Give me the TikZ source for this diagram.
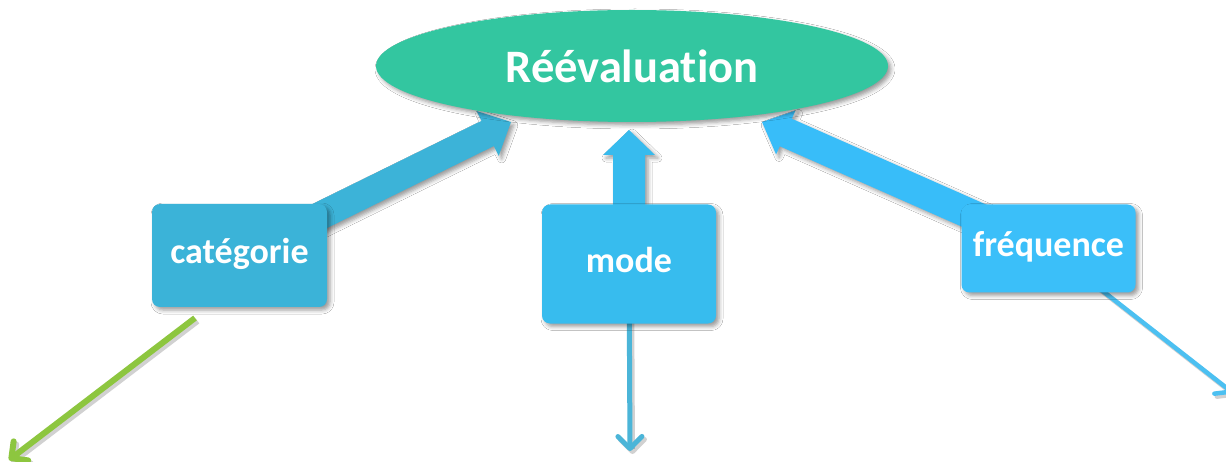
\documentclass[tikz,border=0pt]{standalone}
\usepackage{fontspec}
\setmainfont{Carlito}[Ligatures={NoCommon,NoRare,NoContextual}]
\usetikzlibrary{shapes.geometric,calc,arrows.meta,backgrounds,shadows.blur}

\definecolor{ellc}{HTML}{33C6A0}
\definecolor{catc}{HTML}{3BB3D8}
\definecolor{modec}{HTML}{37BCEE}
\definecolor{freqc}{HTML}{3BBFF9}
\definecolor{catarr}{HTML}{3CB3D8}
\definecolor{modearr}{HTML}{37BBEE}
\definecolor{freqarr}{HTML}{38BDF9}
\definecolor{modeline}{HTML}{4BB5D8}
\definecolor{freqline}{HTML}{4CC0F1}
\definecolor{greenc}{HTML}{8DC63F}

% #1 style, #2 start, #3 tip, #4 shaft half width, #5 head half width, #6 head length
\newcommand{\blockarr}[6]{%
  \coordinate (ba-hb) at ($(#3)!#6!(#2)$);
  \fill[#1] ($(#2)!#4!90:(#3)$) -- ($(ba-hb)!#4!90:(#3)$) -- ($(ba-hb)!#5!90:(#3)$)
    -- (#3) -- ($(ba-hb)!#5!-90:(#3)$) -- ($(ba-hb)!#4!-90:(#3)$) -- ($(#2)!#4!-90:(#3)$) -- cycle;
}

\begin{document}
\begin{tikzpicture}[x=1pt,y=-1pt,
  softshadow/.style={blur shadow={shadow xshift=3pt,shadow yshift=-3pt,shadow blur radius=4pt,shadow opacity=40}},
  boxstyle/.style={rectangle, rounded corners=8pt, text=white, inner sep=0pt,
    font=\fontsize{36}{43}\selectfont\bfseries, text height=24pt, text depth=7pt, softshadow},
  titlestyle/.style={ellipse, fill=ellc, text=white, inner sep=0pt,
    minimum width=512pt, minimum height=112pt,
    font=\fontsize{46.5}{55}\selectfont\bfseries, softshadow},
  thinarrow/.style={line width=5pt, -{Straight Barb[length=12pt,width=24pt,round]}},
  lineshadow/.style={draw=black, opacity=0.18, transform canvas={xshift=2.5pt,yshift=-3pt}}]

\useasboundingbox (0,0) rectangle (1226,462);

\node[titlestyle] (reev) at (632,66) {Réévaluation};
\node[boxstyle, fill=catc, minimum width=175pt, minimum height=103pt] (cat) at (239.5,255.5) {catégorie};
\node[boxstyle, fill=modec, minimum width=174pt, minimum height=119pt] (mode) at (629,264) {mode};
\node[boxstyle, fill=freqc, minimum width=174pt, minimum height=88pt] (freq) at (1048.5,248.5) {fréquence};

\coordinate (t-cat) at (511,122);
\coordinate (t-mode) at (629,130);
\coordinate (t-freq) at (762,122);
\coordinate (m-end) at (630,451);
\coordinate (f-end) at (1233,393);
\coordinate (g-start) at (195,318);
\coordinate (g-end) at (9,460);

\begin{pgfonlayer}{background}
  \fill[white] (0,0) rectangle (1226,462);
  \blockarr{fill=catarr, softshadow}{cat.center}{t-cat}{14pt}{25pt}{26pt}
  \blockarr{fill=modearr, softshadow}{mode.center}{t-mode}{16pt}{26pt}{25pt}
  \blockarr{fill=freqarr, softshadow}{freq.center}{t-freq}{15pt}{24pt}{26pt}
  \draw[thinarrow, lineshadow] (mode.center) -- (m-end);
  \draw[thinarrow, draw=modeline] (mode.center) -- (m-end);
  \draw[thinarrow, lineshadow, line width=4.5pt] (freq.center) -- (f-end);
  \draw[thinarrow, draw=freqline, line width=4.5pt] (freq.center) -- (f-end);
  \draw[thinarrow, lineshadow, line width=6pt] (g-start) -- (g-end);
  \draw[thinarrow, draw=greenc, line width=6pt] (g-start) -- (g-end);
\end{pgfonlayer}
\end{tikzpicture}
\end{document}
